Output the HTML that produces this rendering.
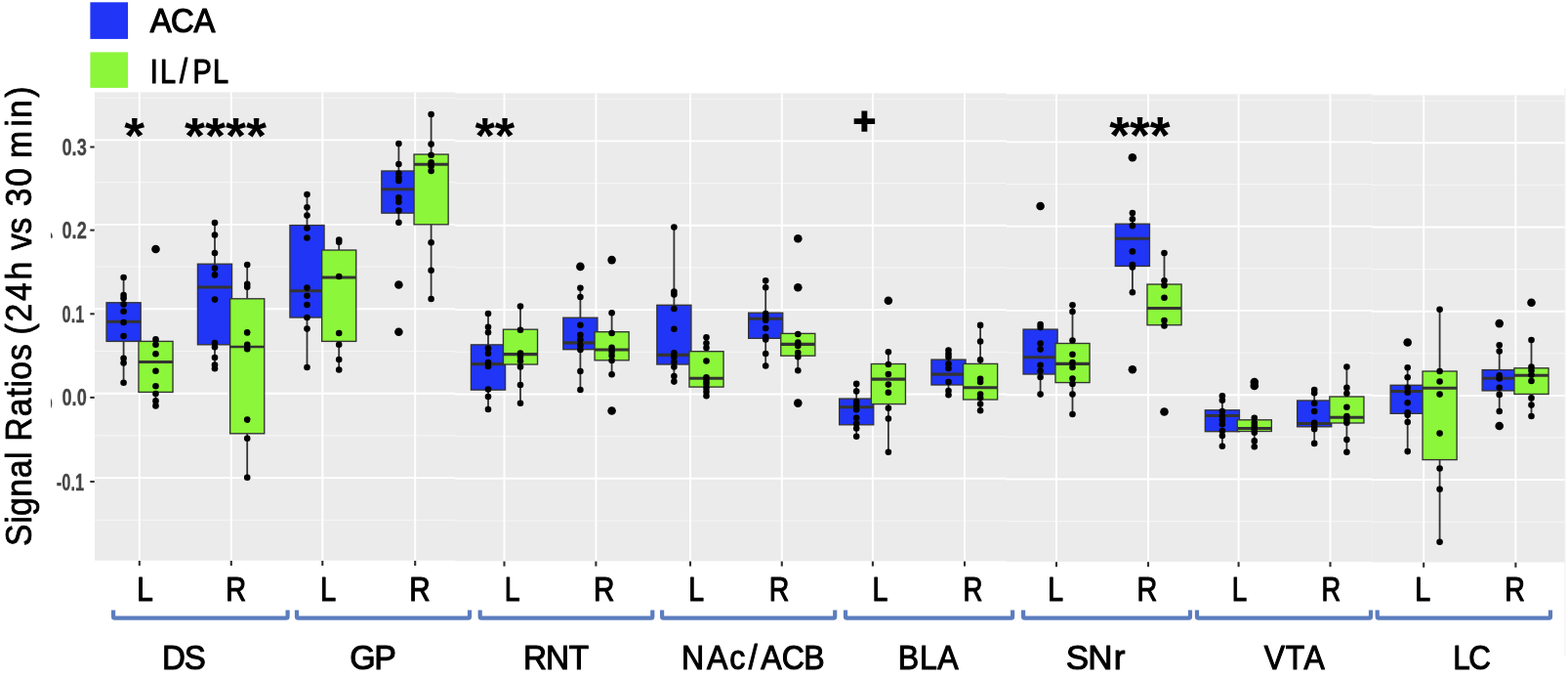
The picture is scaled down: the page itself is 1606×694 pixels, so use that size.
<!DOCTYPE html>
<html lang="en"><head><meta charset="utf-8"><title>Signal Ratios (24h vs 30 min)</title>
<style>html,body{margin:0;padding:0;background:#fff}body{width:1606px;height:694px;overflow:hidden}svg{display:block}text{font-family:'Liberation Sans', Arial, Helvetica, sans-serif}</style>
</head><body>
<svg width="1606" height="694" viewBox="0 0 1606 694" role="img" aria-label="Box plots of signal ratios (24h vs 30 min) for ACA and IL/PL by region">
<rect width="1606" height="694" fill="#fff"/>
<g id="chart">
<line x1="1602.9" y1="89.5" x2="1602.9" y2="672" stroke="#f3eeee" stroke-width="1"/>
<rect x="97.0" y="94.40" width="369.30" height="479.30" fill="#EBEBEB"/>
<rect x="466.0" y="95.40" width="565.00" height="478.90" fill="#EBEBEB"/>
<rect x="1030.7" y="96.40" width="374.90" height="478.50" fill="#EBEBEB"/>
<rect x="1405.3" y="97.40" width="197.30" height="478.10" fill="#EBEBEB"/>
<g stroke="#fff" fill="none">
<path d="M97.0,100.20H466.0 M466.0,101.19H1030.7 M1030.7,102.19H1405.3 M1405.3,103.18H1602.6" stroke-width="0.9" stroke="#f7f7f7"/>
<path d="M97.0,143.41H466.0 M466.0,144.37H1030.7 M1030.7,145.33H1405.3 M1405.3,146.29H1602.6" stroke-width="1.9"/>
<path d="M97.0,186.62H466.0 M466.0,187.55H1030.7 M1030.7,188.47H1405.3 M1405.3,189.39H1602.6" stroke-width="0.9" stroke="#f7f7f7"/>
<path d="M97.0,229.84H466.0 M466.0,230.73H1030.7 M1030.7,231.61H1405.3 M1405.3,232.50H1602.6" stroke-width="1.9"/>
<path d="M97.0,273.06H466.0 M466.0,273.91H1030.7 M1030.7,274.76H1405.3 M1405.3,275.61H1602.6" stroke-width="0.9" stroke="#f7f7f7"/>
<path d="M97.0,316.27H466.0 M466.0,317.08H1030.7 M1030.7,317.90H1405.3 M1405.3,318.71H1602.6" stroke-width="1.9"/>
<path d="M97.0,359.49H466.0 M466.0,360.26H1030.7 M1030.7,361.04H1405.3 M1405.3,361.82H1602.6" stroke-width="0.9" stroke="#f7f7f7"/>
<path d="M97.0,402.70H466.0 M466.0,403.44H1030.7 M1030.7,404.19H1405.3 M1405.3,404.93H1602.6" stroke-width="1.9"/>
<path d="M97.0,445.91H466.0 M466.0,446.62H1030.7 M1030.7,447.33H1405.3 M1405.3,448.03H1602.6" stroke-width="0.9" stroke="#f7f7f7"/>
<path d="M97.0,489.13H466.0 M466.0,489.80H1030.7 M1030.7,490.47H1405.3 M1405.3,491.14H1602.6" stroke-width="1.9"/>
<path d="M97.0,532.35H466.0 M466.0,532.98H1030.7 M1030.7,533.61H1405.3 M1405.3,534.25H1602.6" stroke-width="0.9" stroke="#f7f7f7"/>
<line x1="142.80" y1="94.40" x2="142.80" y2="573.70" stroke-width="1.9"/>
<line x1="236.80" y1="94.40" x2="236.80" y2="573.70" stroke-width="1.9"/>
<line x1="330.30" y1="94.40" x2="330.30" y2="573.70" stroke-width="1.9"/>
<line x1="425.20" y1="94.40" x2="425.20" y2="573.70" stroke-width="1.9"/>
<line x1="516.50" y1="95.40" x2="516.50" y2="574.30" stroke-width="1.9"/>
<line x1="610.40" y1="95.40" x2="610.40" y2="574.30" stroke-width="1.9"/>
<line x1="707.00" y1="95.40" x2="707.00" y2="574.30" stroke-width="1.9"/>
<line x1="800.80" y1="95.40" x2="800.80" y2="574.30" stroke-width="1.9"/>
<line x1="893.90" y1="95.40" x2="893.90" y2="574.30" stroke-width="1.9"/>
<line x1="988.00" y1="95.40" x2="988.00" y2="574.30" stroke-width="1.9"/>
<line x1="1082.00" y1="96.40" x2="1082.00" y2="574.90" stroke-width="1.9"/>
<line x1="1176.00" y1="96.40" x2="1176.00" y2="574.90" stroke-width="1.9"/>
<line x1="1268.60" y1="96.40" x2="1268.60" y2="574.90" stroke-width="1.9"/>
<line x1="1362.50" y1="96.40" x2="1362.50" y2="574.90" stroke-width="1.9"/>
<line x1="1458.20" y1="97.40" x2="1458.20" y2="575.50" stroke-width="1.9"/>
<line x1="1552.40" y1="97.40" x2="1552.40" y2="575.50" stroke-width="1.9"/>
</g>
<g stroke="#333333" stroke-width="1.35">
<line x1="126.6" y1="284" x2="126.6" y2="309.8" stroke-width="1.8"/>
<line x1="126.6" y1="349.4" x2="126.6" y2="391.7" stroke-width="1.8"/>
<rect x="109.05" y="309.8" width="35.1" height="39.60" fill="#2035F5"/>
<line x1="109.05" y1="329.2" x2="144.15" y2="329.2" stroke-width="3.1"/>
<line x1="159.5" y1="347.4" x2="159.5" y2="349.4" stroke-width="1.8"/>
<line x1="159.5" y1="401.4" x2="159.5" y2="415.4" stroke-width="1.8"/>
<rect x="141.95" y="349.4" width="35.1" height="52.00" fill="#8CF63A"/>
<line x1="141.95" y1="370.5" x2="177.05" y2="370.5" stroke-width="3.1"/>
<line x1="220" y1="228" x2="220" y2="270.2" stroke-width="1.8"/>
<line x1="220" y1="352.8" x2="220" y2="377.3" stroke-width="1.8"/>
<rect x="202.45" y="270.2" width="35.1" height="82.60" fill="#2035F5"/>
<line x1="202.45" y1="294" x2="237.55" y2="294" stroke-width="3.1"/>
<line x1="253.2" y1="271" x2="253.2" y2="305.8" stroke-width="1.8"/>
<line x1="253.2" y1="443.8" x2="253.2" y2="488.8" stroke-width="1.8"/>
<rect x="235.65" y="305.8" width="35.1" height="138.00" fill="#8CF63A"/>
<line x1="235.65" y1="355.1" x2="270.75" y2="355.1" stroke-width="2.5"/>
<line x1="314.5" y1="199" x2="314.5" y2="230.5" stroke-width="1.8"/>
<line x1="314.5" y1="325" x2="314.5" y2="376" stroke-width="1.8"/>
<rect x="296.95" y="230.5" width="35.1" height="94.50" fill="#2035F5"/>
<line x1="296.95" y1="297.8" x2="332.05" y2="297.8" stroke-width="3.1"/>
<line x1="347.2" y1="246" x2="347.2" y2="256" stroke-width="1.8"/>
<line x1="347.2" y1="349.4" x2="347.2" y2="378.5" stroke-width="1.8"/>
<rect x="329.65" y="256" width="35.1" height="93.40" fill="#8CF63A"/>
<line x1="329.65" y1="284" x2="364.75" y2="284" stroke-width="3.1"/>
<line x1="408.4" y1="147.1" x2="408.4" y2="175" stroke-width="1.8"/>
<line x1="408.4" y1="218.1" x2="408.4" y2="227.8" stroke-width="1.8"/>
<rect x="390.85" y="175" width="35.1" height="43.10" fill="#2035F5"/>
<line x1="390.85" y1="193.7" x2="425.95" y2="193.7" stroke-width="3.1"/>
<line x1="441.6" y1="117" x2="441.6" y2="158" stroke-width="1.8"/>
<line x1="441.6" y1="229.8" x2="441.6" y2="306" stroke-width="1.8"/>
<rect x="424.05" y="158" width="35.1" height="71.80" fill="#8CF63A"/>
<line x1="424.05" y1="168.3" x2="459.15" y2="168.3" stroke-width="3.1"/>
<line x1="500" y1="321" x2="500" y2="352.9" stroke-width="1.8"/>
<line x1="500" y1="399.1" x2="500" y2="419" stroke-width="1.8"/>
<rect x="482.45" y="352.9" width="35.1" height="46.20" fill="#2035F5"/>
<line x1="482.45" y1="372.6" x2="517.55" y2="372.6" stroke-width="3.1"/>
<line x1="533" y1="313.5" x2="533" y2="337.2" stroke-width="1.8"/>
<line x1="533" y1="373" x2="533" y2="412.8" stroke-width="1.8"/>
<rect x="515.45" y="337.2" width="35.1" height="35.80" fill="#8CF63A"/>
<line x1="515.45" y1="362.6" x2="550.55" y2="362.6" stroke-width="3.1"/>
<line x1="594.4" y1="294.8" x2="594.4" y2="325.2" stroke-width="1.8"/>
<line x1="594.4" y1="357.7" x2="594.4" y2="399" stroke-width="1.8"/>
<rect x="576.85" y="325.2" width="35.1" height="32.50" fill="#2035F5"/>
<line x1="576.85" y1="350.9" x2="611.95" y2="350.9" stroke-width="3.1"/>
<line x1="626.6" y1="320.2" x2="626.6" y2="339.7" stroke-width="1.8"/>
<line x1="626.6" y1="368.8" x2="626.6" y2="383.2" stroke-width="1.8"/>
<rect x="609.05" y="339.7" width="35.1" height="29.10" fill="#8CF63A"/>
<line x1="609.05" y1="358.0" x2="644.15" y2="358.0" stroke-width="3.1"/>
<line x1="690.4" y1="232.5" x2="690.4" y2="312.3" stroke-width="1.8"/>
<line x1="690.4" y1="373" x2="690.4" y2="390.6" stroke-width="1.8"/>
<rect x="672.85" y="312.3" width="35.1" height="60.70" fill="#2035F5"/>
<line x1="672.85" y1="363.4" x2="707.95" y2="363.4" stroke-width="3.1"/>
<line x1="723.5" y1="345.3" x2="723.5" y2="359.7" stroke-width="1.8"/>
<line x1="723.5" y1="396.1" x2="723.5" y2="405.3" stroke-width="1.8"/>
<rect x="705.95" y="359.7" width="35.1" height="36.40" fill="#8CF63A"/>
<line x1="705.95" y1="387.2" x2="741.05" y2="387.2" stroke-width="3.1"/>
<line x1="784.2" y1="287.3" x2="784.2" y2="320.2" stroke-width="1.8"/>
<line x1="784.2" y1="346.3" x2="784.2" y2="374.5" stroke-width="1.8"/>
<rect x="766.65" y="320.2" width="35.1" height="26.10" fill="#2035F5"/>
<line x1="766.65" y1="326.2" x2="801.75" y2="326.2" stroke-width="3.1"/>
<line x1="817.3" y1="364.2" x2="817.3" y2="379.2" stroke-width="1.8"/>
<rect x="799.75" y="341.4" width="35.1" height="22.80" fill="#8CF63A"/>
<line x1="799.75" y1="352.4" x2="834.85" y2="352.4" stroke-width="3.1"/>
<line x1="877.2" y1="392.9" x2="877.2" y2="408.1" stroke-width="1.8"/>
<line x1="877.2" y1="434.8" x2="877.2" y2="446.7" stroke-width="1.8"/>
<rect x="859.65" y="408.1" width="35.1" height="26.70" fill="#2035F5"/>
<line x1="859.65" y1="416.8" x2="894.75" y2="416.8" stroke-width="3.1"/>
<line x1="909.9" y1="360.2" x2="909.9" y2="372.5" stroke-width="1.8"/>
<line x1="909.9" y1="413.6" x2="909.9" y2="462.7" stroke-width="1.8"/>
<rect x="892.35" y="372.5" width="35.1" height="41.10" fill="#8CF63A"/>
<line x1="892.35" y1="388.1" x2="927.45" y2="388.1" stroke-width="3.1"/>
<line x1="971.5" y1="358.5" x2="971.5" y2="368.1" stroke-width="1.8"/>
<line x1="971.5" y1="394" x2="971.5" y2="404.3" stroke-width="1.8"/>
<rect x="953.95" y="368.1" width="35.1" height="25.90" fill="#2035F5"/>
<line x1="953.95" y1="383.1" x2="989.05" y2="383.1" stroke-width="3.1"/>
<line x1="1004.1" y1="332.9" x2="1004.1" y2="372.4" stroke-width="1.8"/>
<line x1="1004.1" y1="409" x2="1004.1" y2="420.3" stroke-width="1.8"/>
<rect x="986.55" y="372.4" width="35.1" height="36.60" fill="#8CF63A"/>
<line x1="986.55" y1="396.8" x2="1021.65" y2="396.8" stroke-width="3.1"/>
<line x1="1065.6" y1="332.1" x2="1065.6" y2="337.1" stroke-width="1.8"/>
<line x1="1065.6" y1="383" x2="1065.6" y2="403.6" stroke-width="1.8"/>
<rect x="1048.05" y="337.1" width="35.1" height="45.90" fill="#2035F5"/>
<line x1="1048.05" y1="365.7" x2="1083.15" y2="365.7" stroke-width="3.1"/>
<line x1="1098.5" y1="312.2" x2="1098.5" y2="351.5" stroke-width="1.8"/>
<line x1="1098.5" y1="391.6" x2="1098.5" y2="424" stroke-width="1.8"/>
<rect x="1080.95" y="351.5" width="35.1" height="40.10" fill="#8CF63A"/>
<line x1="1080.95" y1="372.4" x2="1116.05" y2="372.4" stroke-width="3.1"/>
<line x1="1159.9" y1="218" x2="1159.9" y2="229.2" stroke-width="1.8"/>
<line x1="1159.9" y1="272.4" x2="1159.9" y2="299.3" stroke-width="1.8"/>
<rect x="1142.35" y="229.2" width="35.1" height="43.20" fill="#2035F5"/>
<line x1="1142.35" y1="244.2" x2="1177.45" y2="244.2" stroke-width="3.1"/>
<line x1="1192.5" y1="259" x2="1192.5" y2="291" stroke-width="1.8"/>
<line x1="1192.5" y1="332.7" x2="1192.5" y2="334.7" stroke-width="1.8"/>
<rect x="1174.95" y="291" width="35.1" height="41.70" fill="#8CF63A"/>
<line x1="1174.95" y1="315.5" x2="1210.05" y2="315.5" stroke-width="3.1"/>
<line x1="1251.9" y1="405.3" x2="1251.9" y2="419.8" stroke-width="1.8"/>
<line x1="1251.9" y1="441.7" x2="1251.9" y2="456.7" stroke-width="1.8"/>
<rect x="1234.35" y="419.8" width="35.1" height="21.90" fill="#2035F5"/>
<line x1="1234.35" y1="425.5" x2="1269.45" y2="425.5" stroke-width="3.1"/>
<line x1="1284.8" y1="427.8" x2="1284.8" y2="429.8" stroke-width="1.8"/>
<line x1="1284.8" y1="441.5" x2="1284.8" y2="457.2" stroke-width="1.8"/>
<rect x="1267.25" y="429.8" width="35.1" height="11.70" fill="#8CF63A"/>
<line x1="1267.25" y1="438.5" x2="1302.35" y2="438.5" stroke-width="3.1"/>
<line x1="1346.2" y1="399.1" x2="1346.2" y2="410" stroke-width="1.8"/>
<line x1="1346.2" y1="436.8" x2="1346.2" y2="453.9" stroke-width="1.8"/>
<rect x="1328.65" y="410" width="35.1" height="26.80" fill="#2035F5"/>
<line x1="1328.65" y1="433.5" x2="1363.75" y2="433.5" stroke-width="3.1"/>
<line x1="1379.4" y1="375.5" x2="1379.4" y2="406" stroke-width="1.8"/>
<line x1="1379.4" y1="433" x2="1379.4" y2="462.8" stroke-width="1.8"/>
<rect x="1361.85" y="406" width="35.1" height="27.00" fill="#8CF63A"/>
<line x1="1361.85" y1="427.3" x2="1396.95" y2="427.3" stroke-width="3.1"/>
<line x1="1441.7" y1="376.2" x2="1441.7" y2="394.3" stroke-width="1.8"/>
<line x1="1441.7" y1="423.3" x2="1441.7" y2="462.1" stroke-width="1.8"/>
<rect x="1424.15" y="394.3" width="35.1" height="29.00" fill="#2035F5"/>
<line x1="1424.15" y1="400.5" x2="1459.25" y2="400.5" stroke-width="3.1"/>
<line x1="1474.6" y1="316.8" x2="1474.6" y2="380" stroke-width="1.8"/>
<line x1="1474.6" y1="470.6" x2="1474.6" y2="554.7" stroke-width="1.8"/>
<rect x="1457.05" y="380" width="35.1" height="90.60" fill="#8CF63A"/>
<line x1="1457.05" y1="397.2" x2="1492.15" y2="397.2" stroke-width="3.1"/>
<line x1="1535.7" y1="353.3" x2="1535.7" y2="378.6" stroke-width="1.8"/>
<line x1="1535.7" y1="399.9" x2="1535.7" y2="421" stroke-width="1.8"/>
<rect x="1518.15" y="378.6" width="35.1" height="21.30" fill="#2035F5"/>
<line x1="1518.15" y1="387.2" x2="1553.25" y2="387.2" stroke-width="3.1"/>
<line x1="1568.5" y1="348" x2="1568.5" y2="376.8" stroke-width="1.8"/>
<line x1="1568.5" y1="403.4" x2="1568.5" y2="426" stroke-width="1.8"/>
<rect x="1550.95" y="376.8" width="35.1" height="26.60" fill="#8CF63A"/>
<line x1="1550.95" y1="384.3" x2="1586.05" y2="384.3" stroke-width="3.1"/>
</g>
<g fill="#000">
<circle cx="126.6" cy="284" r="3.3"/>
<circle cx="126.6" cy="302" r="3.3"/>
<circle cx="126.6" cy="305.3" r="3.3"/>
<circle cx="126.6" cy="311.4" r="3.3"/>
<circle cx="126.6" cy="318.8" r="3.3"/>
<circle cx="126.6" cy="330" r="3.3"/>
<circle cx="126.6" cy="344" r="3.3"/>
<circle cx="126.6" cy="366.8" r="3.3"/>
<circle cx="126.6" cy="371.5" r="3.3"/>
<circle cx="126.6" cy="391.7" r="3.3"/>
<circle cx="159.5" cy="347.4" r="3.3"/>
<circle cx="159.5" cy="352.8" r="3.3"/>
<circle cx="159.5" cy="362.3" r="3.3"/>
<circle cx="159.5" cy="379.8" r="3.3"/>
<circle cx="159.5" cy="395.2" r="3.3"/>
<circle cx="159.5" cy="403" r="3.3"/>
<circle cx="159.5" cy="410.4" r="3.3"/>
<circle cx="159.5" cy="415.4" r="3.3"/>
<circle cx="159.5" cy="255" r="4.3"/>
<circle cx="220" cy="228" r="3.3"/>
<circle cx="220" cy="240.5" r="3.3"/>
<circle cx="220" cy="259" r="3.3"/>
<circle cx="220" cy="274.6" r="3.3"/>
<circle cx="220" cy="281.4" r="3.3"/>
<circle cx="220" cy="306.6" r="3.3"/>
<circle cx="220" cy="351" r="3.3"/>
<circle cx="220" cy="355.3" r="3.3"/>
<circle cx="220" cy="366" r="3.3"/>
<circle cx="220" cy="373.5" r="3.3"/>
<circle cx="220" cy="377.3" r="3.3"/>
<circle cx="253.2" cy="271" r="3.3"/>
<circle cx="253.2" cy="290.8" r="3.3"/>
<circle cx="253.2" cy="293.8" r="3.3"/>
<circle cx="253.2" cy="340.4" r="3.3"/>
<circle cx="253.2" cy="352.8" r="3.3"/>
<circle cx="253.2" cy="357.3" r="3.3"/>
<circle cx="253.2" cy="429.6" r="3.3"/>
<circle cx="253.2" cy="448.8" r="3.3"/>
<circle cx="253.2" cy="488.8" r="3.3"/>
<circle cx="314.5" cy="199" r="3.3"/>
<circle cx="314.5" cy="212.3" r="3.3"/>
<circle cx="314.5" cy="220.6" r="3.3"/>
<circle cx="314.5" cy="233.5" r="3.3"/>
<circle cx="314.5" cy="243.5" r="3.3"/>
<circle cx="314.5" cy="294.6" r="3.3"/>
<circle cx="314.5" cy="302.8" r="3.3"/>
<circle cx="314.5" cy="312" r="3.3"/>
<circle cx="314.5" cy="325" r="3.3"/>
<circle cx="314.5" cy="336.6" r="3.3"/>
<circle cx="314.5" cy="376" r="3.3"/>
<circle cx="347.2" cy="245.5" r="3.3"/>
<circle cx="347.2" cy="247.7" r="3.3"/>
<circle cx="347.2" cy="283" r="3.3"/>
<circle cx="347.2" cy="341" r="3.3"/>
<circle cx="347.2" cy="352.8" r="3.3"/>
<circle cx="347.2" cy="368" r="3.3"/>
<circle cx="347.2" cy="378.5" r="3.3"/>
<circle cx="408.4" cy="147.1" r="3.3"/>
<circle cx="408.4" cy="168" r="3.3"/>
<circle cx="408.4" cy="177.5" r="3.3"/>
<circle cx="408.4" cy="181.7" r="3.3"/>
<circle cx="408.4" cy="185" r="3.3"/>
<circle cx="408.4" cy="202.4" r="3.3"/>
<circle cx="408.4" cy="206.7" r="3.3"/>
<circle cx="408.4" cy="215.6" r="3.3"/>
<circle cx="408.4" cy="227.8" r="3.3"/>
<circle cx="408.4" cy="291.5" r="4.3"/>
<circle cx="408.4" cy="339.7" r="4.3"/>
<circle cx="441.6" cy="117" r="3.3"/>
<circle cx="441.6" cy="147.6" r="3.3"/>
<circle cx="441.6" cy="158.8" r="3.3"/>
<circle cx="441.6" cy="166.3" r="3.3"/>
<circle cx="441.6" cy="170" r="3.3"/>
<circle cx="441.6" cy="175" r="3.3"/>
<circle cx="441.6" cy="248.2" r="3.3"/>
<circle cx="441.6" cy="276.8" r="3.3"/>
<circle cx="441.6" cy="306" r="3.3"/>
<circle cx="500" cy="321" r="3.3"/>
<circle cx="500" cy="334.7" r="3.3"/>
<circle cx="500" cy="340.2" r="3.3"/>
<circle cx="500" cy="356.6" r="3.3"/>
<circle cx="500" cy="361.8" r="3.3"/>
<circle cx="500" cy="371" r="3.3"/>
<circle cx="500" cy="375" r="3.3"/>
<circle cx="500" cy="398.6" r="3.3"/>
<circle cx="500" cy="406" r="3.3"/>
<circle cx="500" cy="419" r="3.3"/>
<circle cx="533" cy="313.5" r="3.3"/>
<circle cx="533" cy="337.7" r="3.3"/>
<circle cx="533" cy="361.6" r="3.3"/>
<circle cx="533" cy="365" r="3.3"/>
<circle cx="533" cy="369.5" r="3.3"/>
<circle cx="533" cy="375.5" r="3.3"/>
<circle cx="533" cy="394" r="3.3"/>
<circle cx="533" cy="412.8" r="3.3"/>
<circle cx="594.4" cy="294.8" r="3.3"/>
<circle cx="594.4" cy="304" r="3.3"/>
<circle cx="594.4" cy="332.7" r="3.3"/>
<circle cx="594.4" cy="342.7" r="3.3"/>
<circle cx="594.4" cy="347.7" r="3.3"/>
<circle cx="594.4" cy="353.4" r="3.3"/>
<circle cx="594.4" cy="357.9" r="3.3"/>
<circle cx="594.4" cy="380" r="3.3"/>
<circle cx="594.4" cy="399" r="3.3"/>
<circle cx="594.4" cy="272.9" r="4.3"/>
<circle cx="626.6" cy="320.2" r="3.3"/>
<circle cx="626.6" cy="341" r="3.3"/>
<circle cx="626.6" cy="355.9" r="3.3"/>
<circle cx="626.6" cy="360" r="3.3"/>
<circle cx="626.6" cy="364" r="3.3"/>
<circle cx="626.6" cy="369" r="3.3"/>
<circle cx="626.6" cy="383.2" r="3.3"/>
<circle cx="626.6" cy="266.1" r="4.3"/>
<circle cx="626.6" cy="420.5" r="4.3"/>
<circle cx="690.4" cy="232.5" r="3.3"/>
<circle cx="690.4" cy="298.6" r="3.3"/>
<circle cx="690.4" cy="301.5" r="3.3"/>
<circle cx="690.4" cy="316" r="3.3"/>
<circle cx="690.4" cy="336.7" r="3.3"/>
<circle cx="690.4" cy="361.3" r="3.3"/>
<circle cx="690.4" cy="365.5" r="3.3"/>
<circle cx="690.4" cy="370.5" r="3.3"/>
<circle cx="690.4" cy="375.5" r="3.3"/>
<circle cx="690.4" cy="385" r="3.3"/>
<circle cx="690.4" cy="390.6" r="3.3"/>
<circle cx="723.5" cy="345.3" r="3.3"/>
<circle cx="723.5" cy="351.3" r="3.3"/>
<circle cx="723.5" cy="356" r="3.3"/>
<circle cx="723.5" cy="369.5" r="3.3"/>
<circle cx="723.5" cy="386.2" r="3.3"/>
<circle cx="723.5" cy="390" r="3.3"/>
<circle cx="723.5" cy="393" r="3.3"/>
<circle cx="723.5" cy="397" r="3.3"/>
<circle cx="723.5" cy="401" r="3.3"/>
<circle cx="723.5" cy="405.3" r="3.3"/>
<circle cx="784.2" cy="287.3" r="3.3"/>
<circle cx="784.2" cy="294.3" r="3.3"/>
<circle cx="784.2" cy="321" r="3.3"/>
<circle cx="784.2" cy="324.2" r="3.3"/>
<circle cx="784.2" cy="327.7" r="3.3"/>
<circle cx="784.2" cy="336" r="3.3"/>
<circle cx="784.2" cy="344.7" r="3.3"/>
<circle cx="784.2" cy="347.5" r="3.3"/>
<circle cx="784.2" cy="362" r="3.3"/>
<circle cx="784.2" cy="374.5" r="3.3"/>
<circle cx="817.3" cy="342.0" r="3.3"/>
<circle cx="817.3" cy="350.6" r="3.3"/>
<circle cx="817.3" cy="354.0" r="3.3"/>
<circle cx="817.3" cy="361.0" r="3.3"/>
<circle cx="817.3" cy="365.3" r="3.3"/>
<circle cx="817.3" cy="379.2" r="3.3"/>
<circle cx="817.3" cy="244.3" r="4.3"/>
<circle cx="817.3" cy="294.3" r="4.3"/>
<circle cx="817.3" cy="412.6" r="4.3"/>
<circle cx="877.2" cy="392.9" r="3.3"/>
<circle cx="877.2" cy="400.6" r="3.3"/>
<circle cx="877.2" cy="411" r="3.3"/>
<circle cx="877.2" cy="414.8" r="3.3"/>
<circle cx="877.2" cy="419.3" r="3.3"/>
<circle cx="877.2" cy="427.8" r="3.3"/>
<circle cx="877.2" cy="433.5" r="3.3"/>
<circle cx="877.2" cy="438.5" r="3.3"/>
<circle cx="877.2" cy="446.7" r="3.3"/>
<circle cx="909.9" cy="360.2" r="3.3"/>
<circle cx="909.9" cy="373" r="3.3"/>
<circle cx="909.9" cy="383" r="3.3"/>
<circle cx="909.9" cy="393.6" r="3.3"/>
<circle cx="909.9" cy="401.8" r="3.3"/>
<circle cx="909.9" cy="417.8" r="3.3"/>
<circle cx="909.9" cy="428.5" r="3.3"/>
<circle cx="909.9" cy="462.7" r="3.3"/>
<circle cx="909.9" cy="307.7" r="4.3"/>
<circle cx="971.5" cy="358.5" r="3.3"/>
<circle cx="971.5" cy="362.2" r="3.3"/>
<circle cx="971.5" cy="365.5" r="3.3"/>
<circle cx="971.5" cy="372.4" r="3.3"/>
<circle cx="971.5" cy="377" r="3.3"/>
<circle cx="971.5" cy="391" r="3.3"/>
<circle cx="971.5" cy="400" r="3.3"/>
<circle cx="971.5" cy="404.3" r="3.3"/>
<circle cx="1004.1" cy="332.9" r="3.3"/>
<circle cx="1004.1" cy="349.5" r="3.3"/>
<circle cx="1004.1" cy="368.4" r="3.3"/>
<circle cx="1004.1" cy="387.8" r="3.3"/>
<circle cx="1004.1" cy="391" r="3.3"/>
<circle cx="1004.1" cy="403.6" r="3.3"/>
<circle cx="1004.1" cy="407.3" r="3.3"/>
<circle cx="1004.1" cy="413.5" r="3.3"/>
<circle cx="1004.1" cy="420.3" r="3.3"/>
<circle cx="1065.6" cy="332.1" r="3.3"/>
<circle cx="1065.6" cy="335.1" r="3.3"/>
<circle cx="1065.6" cy="351.6" r="3.3"/>
<circle cx="1065.6" cy="357.6" r="3.3"/>
<circle cx="1065.6" cy="373.8" r="3.3"/>
<circle cx="1065.6" cy="379.7" r="3.3"/>
<circle cx="1065.6" cy="386" r="3.3"/>
<circle cx="1065.6" cy="403.6" r="3.3"/>
<circle cx="1065.6" cy="211" r="4.3"/>
<circle cx="1098.5" cy="312.2" r="3.3"/>
<circle cx="1098.5" cy="319" r="3.3"/>
<circle cx="1098.5" cy="348.5" r="3.3"/>
<circle cx="1098.5" cy="362.8" r="3.3"/>
<circle cx="1098.5" cy="371" r="3.3"/>
<circle cx="1098.5" cy="376" r="3.3"/>
<circle cx="1098.5" cy="387.5" r="3.3"/>
<circle cx="1098.5" cy="392.9" r="3.3"/>
<circle cx="1098.5" cy="403.6" r="3.3"/>
<circle cx="1098.5" cy="424" r="3.3"/>
<circle cx="1159.9" cy="218" r="3.3"/>
<circle cx="1159.9" cy="224.3" r="3.3"/>
<circle cx="1159.9" cy="231.1" r="3.3"/>
<circle cx="1159.9" cy="257.4" r="3.3"/>
<circle cx="1159.9" cy="271.1" r="3.3"/>
<circle cx="1159.9" cy="273.6" r="3.3"/>
<circle cx="1159.9" cy="299.3" r="3.3"/>
<circle cx="1159.9" cy="161.3" r="4.3"/>
<circle cx="1159.9" cy="378.3" r="4.3"/>
<circle cx="1192.5" cy="259" r="3.3"/>
<circle cx="1192.5" cy="287.3" r="3.3"/>
<circle cx="1192.5" cy="292.3" r="3.3"/>
<circle cx="1192.5" cy="304.8" r="3.3"/>
<circle cx="1192.5" cy="328" r="3.3"/>
<circle cx="1192.5" cy="333.5" r="3.3"/>
<circle cx="1192.5" cy="421.5" r="4.3"/>
<circle cx="1251.9" cy="405.3" r="3.3"/>
<circle cx="1251.9" cy="409.8" r="3.3"/>
<circle cx="1251.9" cy="421" r="3.3"/>
<circle cx="1251.9" cy="426" r="3.3"/>
<circle cx="1251.9" cy="429.8" r="3.3"/>
<circle cx="1251.9" cy="434.2" r="3.3"/>
<circle cx="1251.9" cy="441" r="3.3"/>
<circle cx="1251.9" cy="446" r="3.3"/>
<circle cx="1251.9" cy="456.7" r="3.3"/>
<circle cx="1284.8" cy="427.8" r="3.3"/>
<circle cx="1284.8" cy="432.8" r="3.3"/>
<circle cx="1284.8" cy="436" r="3.3"/>
<circle cx="1284.8" cy="439.8" r="3.3"/>
<circle cx="1284.8" cy="442.7" r="3.3"/>
<circle cx="1284.8" cy="451.4" r="3.3"/>
<circle cx="1284.8" cy="457.2" r="3.3"/>
<circle cx="1284.8" cy="391.1" r="4.3"/>
<circle cx="1284.8" cy="394.9" r="4.3"/>
<circle cx="1346.2" cy="399.1" r="3.3"/>
<circle cx="1346.2" cy="402.3" r="3.3"/>
<circle cx="1346.2" cy="412.8" r="3.3"/>
<circle cx="1346.2" cy="421" r="3.3"/>
<circle cx="1346.2" cy="432.8" r="3.3"/>
<circle cx="1346.2" cy="436" r="3.3"/>
<circle cx="1346.2" cy="439.2" r="3.3"/>
<circle cx="1346.2" cy="453.9" r="3.3"/>
<circle cx="1379.4" cy="375.5" r="3.3"/>
<circle cx="1379.4" cy="396.9" r="3.3"/>
<circle cx="1379.4" cy="402.8" r="3.3"/>
<circle cx="1379.4" cy="416.8" r="3.3"/>
<circle cx="1379.4" cy="426" r="3.3"/>
<circle cx="1379.4" cy="429.8" r="3.3"/>
<circle cx="1379.4" cy="432.8" r="3.3"/>
<circle cx="1379.4" cy="450.1" r="3.3"/>
<circle cx="1379.4" cy="462.8" r="3.3"/>
<circle cx="1441.7" cy="376.2" r="3.3"/>
<circle cx="1441.7" cy="386.2" r="3.3"/>
<circle cx="1441.7" cy="396.8" r="3.3"/>
<circle cx="1441.7" cy="401.8" r="3.3"/>
<circle cx="1441.7" cy="412.3" r="3.3"/>
<circle cx="1441.7" cy="422.3" r="3.3"/>
<circle cx="1441.7" cy="424.8" r="3.3"/>
<circle cx="1441.7" cy="432" r="3.3"/>
<circle cx="1441.7" cy="462.1" r="3.3"/>
<circle cx="1441.7" cy="350.5" r="4.3"/>
<circle cx="1474.6" cy="316.8" r="3.3"/>
<circle cx="1474.6" cy="380" r="3.3"/>
<circle cx="1474.6" cy="390.5" r="3.3"/>
<circle cx="1474.6" cy="403.6" r="3.3"/>
<circle cx="1474.6" cy="443.6" r="3.3"/>
<circle cx="1474.6" cy="479.5" r="3.3"/>
<circle cx="1474.6" cy="500.7" r="3.3"/>
<circle cx="1474.6" cy="554.7" r="3.3"/>
<circle cx="1535.7" cy="353.3" r="3.3"/>
<circle cx="1535.7" cy="359.5" r="3.3"/>
<circle cx="1535.7" cy="384.3" r="3.3"/>
<circle cx="1535.7" cy="387.4" r="3.3"/>
<circle cx="1535.7" cy="396.8" r="3.3"/>
<circle cx="1535.7" cy="403.9" r="3.3"/>
<circle cx="1535.7" cy="421" r="3.3"/>
<circle cx="1535.7" cy="331.1" r="4.3"/>
<circle cx="1535.7" cy="436" r="4.3"/>
<circle cx="1568.5" cy="348" r="3.3"/>
<circle cx="1568.5" cy="375.6" r="3.3"/>
<circle cx="1568.5" cy="379.3" r="3.3"/>
<circle cx="1568.5" cy="383.7" r="3.3"/>
<circle cx="1568.5" cy="390" r="3.3"/>
<circle cx="1568.5" cy="407.4" r="3.3"/>
<circle cx="1568.5" cy="414.6" r="3.3"/>
<circle cx="1568.5" cy="426" r="3.3"/>
<circle cx="1568.5" cy="309.7" r="4.3"/>
</g>
<g stroke="#2e2e2e" stroke-width="2.1">
<line x1="142.80" y1="574.00" x2="142.80" y2="579.00"/>
<line x1="236.80" y1="574.00" x2="236.80" y2="579.00"/>
<line x1="330.30" y1="574.00" x2="330.30" y2="579.00"/>
<line x1="425.20" y1="574.00" x2="425.20" y2="579.00"/>
<line x1="516.50" y1="574.60" x2="516.50" y2="579.60"/>
<line x1="610.40" y1="574.60" x2="610.40" y2="579.60"/>
<line x1="707.00" y1="574.60" x2="707.00" y2="579.60"/>
<line x1="800.80" y1="574.60" x2="800.80" y2="579.60"/>
<line x1="893.90" y1="574.60" x2="893.90" y2="579.60"/>
<line x1="988.00" y1="574.60" x2="988.00" y2="579.60"/>
<line x1="1082.00" y1="575.20" x2="1082.00" y2="580.20"/>
<line x1="1176.00" y1="575.20" x2="1176.00" y2="580.20"/>
<line x1="1268.60" y1="575.20" x2="1268.60" y2="580.20"/>
<line x1="1362.50" y1="575.20" x2="1362.50" y2="580.20"/>
<line x1="1458.20" y1="575.80" x2="1458.20" y2="580.80"/>
<line x1="1552.40" y1="575.80" x2="1552.40" y2="580.80"/>
<line x1="92.3" y1="150.5" x2="96.7" y2="150.5"/>
<line x1="92.3" y1="235.6" x2="96.7" y2="235.6"/>
<line x1="92.3" y1="321.3" x2="96.7" y2="321.3"/>
<line x1="92.3" y1="406.9" x2="96.7" y2="406.9"/>
<line x1="92.3" y1="493.0" x2="96.7" y2="493.0"/>
</g>
<text transform="translate(63.52,159.00) scale(0.7831,1)" font-size="23.2" font-weight="bold" fill="#444444" stroke="#444444" stroke-width="0.3" stroke-linejoin="round">0.3</text>
<text transform="translate(63.52,244.10) scale(0.7831,1)" font-size="23.2" font-weight="bold" fill="#444444" stroke="#444444" stroke-width="0.3" stroke-linejoin="round">0.2</text>
<text transform="translate(63.60,329.80) scale(0.7021,1)" font-size="23.2" font-weight="bold" fill="#444444" stroke="#444444" stroke-width="0.3" stroke-linejoin="round">0.1</text>
<text transform="translate(63.52,415.40) scale(0.7831,1)" font-size="23.2" font-weight="bold" fill="#444444" stroke="#444444" stroke-width="0.3" stroke-linejoin="round">0.0</text>
<text transform="translate(57.79,501.50) scale(0.7089,1)" font-size="23.2" font-weight="bold" fill="#444444" stroke="#444444" stroke-width="0.3" stroke-linejoin="round">-0.1</text>
<text transform="translate(127.20,156.76) scale(1.0169,1)" font-size="52.7" font-weight="bold" fill="#000">*</text>
<text transform="translate(189.00,156.76) scale(1.0234,1)" font-size="52.7" font-weight="bold" fill="#000">****</text>
<text transform="translate(486.40,156.86) scale(0.9950,1)" font-size="52.7" font-weight="bold" fill="#000">**</text>
<text transform="translate(1136.20,157.15) scale(1.0107,1)" font-size="52.97" font-weight="bold" fill="#000">***</text>
<text transform="translate(873.76,137.17) scale(1.0200,1)" font-size="39.02" font-weight="bold" fill="#000" stroke="#000" stroke-width="1.5" stroke-linejoin="miter">+</text>
</g>
<path d="M51.9,407.3 Q54.6,412.8 52.2,418.3 Z" fill="#3a3a3a"/>
<path d="M51.9,237.6 Q54.3,240.5 53.6,243.8 L52.1,243.8 Z" fill="#3a3a3a"/>
<rect x="92.4" y="2.3" width="38.6" height="37.6" fill="#2035F5"/>
<rect x="92.4" y="53.4" width="38.6" height="36.5" fill="#8CF63A"/>
<text transform="translate(0,33.30) scale(0.939,1)" x="163.62 186.34 211.47" font-size="35.0" font-weight="normal" fill="#000" stroke="#000" stroke-width="1.2" stroke-linejoin="round">ACA</text>
<text transform="translate(0,85.00) scale(0.825,1)" x="186.42 198.95 222.91 239.44 264.36" font-size="35.0" font-weight="normal" fill="#000" stroke="#000" stroke-width="1.2" stroke-linejoin="round">IL/PL</text>
<text transform="translate(32.2,0) rotate(-90) scale(0.92,1)" font-size="36.6" fill="#000" stroke="#000" stroke-width="0.8" stroke-linejoin="round"><tspan x="-607.52 -582.33 -573.94 -552.94 -531.93 -510.93">Signal</tspan> <tspan x="-491.11 -463.25 -441.79 -431.07 -422.50 -401.04">Ratios</tspan> <tspan x="-372.34 -358.29 -334.84 -311.38">(24h</tspan> <tspan x="-278.23 -260.39">vs</tspan> <tspan x="-229.54 -207.48">30</tspan> <tspan x="-175.97 -141.00 -131.67 -108.33">min)</tspan></text>
<text transform="translate(140.22,614.80) scale(0.8293,1)" font-size="35.9" font-weight="normal" fill="#000" stroke="#000" stroke-width="1.2" stroke-linejoin="round">L</text>
<text transform="translate(231.28,614.80) scale(0.8073,1)" font-size="35.9" font-weight="normal" fill="#000" stroke="#000" stroke-width="1.2" stroke-linejoin="round">R</text>
<text transform="translate(328.07,614.80) scale(0.8103,1)" font-size="35.9" font-weight="normal" fill="#000" stroke="#000" stroke-width="1.2" stroke-linejoin="round">L</text>
<text transform="translate(419.33,614.80) scale(0.8262,1)" font-size="35.9" font-weight="normal" fill="#000" stroke="#000" stroke-width="1.2" stroke-linejoin="round">R</text>
<text transform="translate(516.63,614.80) scale(0.7913,1)" font-size="35.9" font-weight="normal" fill="#000" stroke="#000" stroke-width="1.2" stroke-linejoin="round">L</text>
<text transform="translate(608.03,614.80) scale(0.8262,1)" font-size="35.9" font-weight="normal" fill="#000" stroke="#000" stroke-width="1.2" stroke-linejoin="round">R</text>
<text transform="translate(705.33,614.80) scale(0.7913,1)" font-size="35.9" font-weight="normal" fill="#000" stroke="#000" stroke-width="1.2" stroke-linejoin="round">L</text>
<text transform="translate(787.72,614.80) scale(0.7932,1)" font-size="35.9" font-weight="normal" fill="#000" stroke="#000" stroke-width="1.2" stroke-linejoin="round">R</text>
<text transform="translate(893.43,614.80) scale(0.7913,1)" font-size="35.9" font-weight="normal" fill="#000" stroke="#000" stroke-width="1.2" stroke-linejoin="round">L</text>
<text transform="translate(986.39,614.80) scale(0.7696,1)" font-size="35.9" font-weight="normal" fill="#000" stroke="#000" stroke-width="1.2" stroke-linejoin="round">R</text>
<text transform="translate(1073.13,614.80) scale(0.7913,1)" font-size="35.9" font-weight="normal" fill="#000" stroke="#000" stroke-width="1.2" stroke-linejoin="round">L</text>
<text transform="translate(1164.49,614.80) scale(0.8026,1)" font-size="35.9" font-weight="normal" fill="#000" stroke="#000" stroke-width="1.2" stroke-linejoin="round">R</text>
<text transform="translate(1261.78,614.80) scale(0.7723,1)" font-size="35.9" font-weight="normal" fill="#000" stroke="#000" stroke-width="1.2" stroke-linejoin="round">L</text>
<text transform="translate(1353.42,614.80) scale(0.7601,1)" font-size="35.9" font-weight="normal" fill="#000" stroke="#000" stroke-width="1.2" stroke-linejoin="round">R</text>
<text transform="translate(1449.21,614.80) scale(0.7977,1)" font-size="35.9" font-weight="normal" fill="#000" stroke="#000" stroke-width="1.2" stroke-linejoin="round">L</text>
<text transform="translate(1541.21,614.80) scale(0.7979,1)" font-size="35.9" font-weight="normal" fill="#000" stroke="#000" stroke-width="1.2" stroke-linejoin="round">R</text>
<text transform="translate(0,685.10) scale(0.944,1)" x="175.90 199.86" font-size="35.0" font-weight="normal" fill="#000" stroke="#000" stroke-width="1.1" stroke-linejoin="round">DS</text>
<text transform="translate(0,685.10) scale(0.971,1)" x="368.89 394.70" font-size="35.0" font-weight="normal" fill="#000" stroke="#000" stroke-width="1.1" stroke-linejoin="round">GP</text>
<text transform="translate(0,685.10) scale(0.952,1)" x="562.91 587.27 612.24" font-size="35.0" font-weight="normal" fill="#000" stroke="#000" stroke-width="1.1" stroke-linejoin="round">RNT</text>
<text transform="translate(0,685.10) scale(0.917,1)" x="761.28 789.48 814.84 836.16 849.90 873.16 897.90" font-size="35.0" font-weight="normal" fill="#000" stroke="#000" stroke-width="1.1" stroke-linejoin="round">NAc/ACB</text>
<text transform="translate(0,685.10) scale(0.916,1)" x="1004.19 1028.46 1048.31" font-size="35.0" font-weight="normal" fill="#000" stroke="#000" stroke-width="1.1" stroke-linejoin="round">BLA</text>
<text transform="translate(0,685.10) scale(1.000,1)" x="1091.83 1114.20 1140.72" font-size="35.0" font-weight="normal" fill="#000" stroke="#000" stroke-width="1.1" stroke-linejoin="round">SNr</text>
<text transform="translate(0,685.10) scale(0.910,1)" x="1422.84 1447.08 1467.58" font-size="35.0" font-weight="normal" fill="#000" stroke="#000" stroke-width="1.1" stroke-linejoin="round">VTA</text>
<text transform="translate(0,685.10) scale(0.896,1)" x="1661.13 1678.77" font-size="35.0" font-weight="normal" fill="#000" stroke="#000" stroke-width="1.1" stroke-linejoin="round">LC</text>
<g fill="none" stroke="#5B7DBE" stroke-width="4.2" stroke-linejoin="round" stroke-linecap="butt">
<path d="M116.1,624.6 V631.2 Q116.1,632.7 117.6,632.7 H293.1 Q294.6,632.7 294.6,631.2 V624.6"/>
<path d="M304.0,624.6 V631.2 Q304.0,632.7 305.5,632.7 H479.5 Q481.0,632.7 481.0,631.2 V624.6"/>
<path d="M491.7,624.6 V631.2 Q491.7,632.7 493.2,632.7 H666.8 Q668.3,632.7 668.3,631.2 V624.6"/>
<path d="M678.1,624.6 V631.2 Q678.1,632.7 679.6,632.7 H853.7 Q855.2,632.7 855.2,631.2 V624.6"/>
<path d="M866.0,624.6 V631.2 Q866.0,632.7 867.5,632.7 H1035.6 Q1037.1,632.7 1037.1,631.2 V624.6"/>
<path d="M1048.1,624.6 V631.2 Q1048.1,632.7 1049.6,632.7 H1217.5 Q1219.0,632.7 1219.0,631.2 V624.6"/>
<path d="M1226.0,624.6 V631.2 Q1226.0,632.7 1227.5,632.7 H1402.5 Q1404.0,632.7 1404.0,631.2 V624.6"/>
<path d="M1410.7,624.6 V631.2 Q1410.7,632.7 1412.2,632.7 H1586.5 Q1588.0,632.7 1588.0,631.2 V624.6"/>
</g>
</svg></body></html>
